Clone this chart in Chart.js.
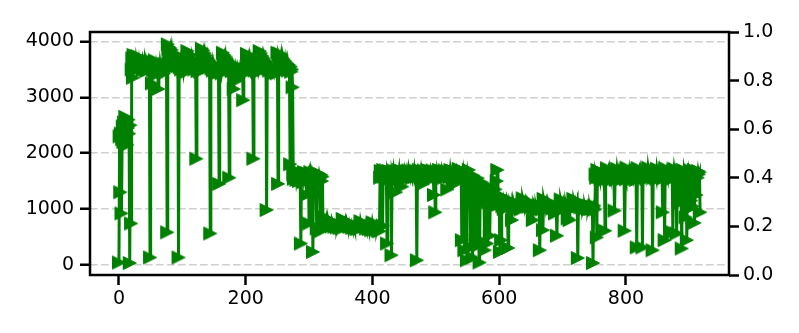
<!DOCTYPE html>
<html lang="en">
<head>
    <meta charset="UTF-8">
    <title>Series</title>
    <script src="https://cdn.jsdelivr.net/npm/chart.js"></script>
    <style>
        body { margin: 0; background: #fff; }
        #wrap { width: 799px; height: 333px; }
    </style>
</head>
<body>
<div id="wrap"><canvas id="seriesChart" width="799" height="333"></canvas></div>
<script>
// values, split by regime (index = position along x)
const segA = [40, 2300, 1300, 2350, 920, 2250, 2480, 2200, 2550, 2380,
    2650, 2300, 2560, 2150, 2450, 2600, 2350, 30, 2500, 740];
const segB = [3500, 3700, 3350, 3760, 3620, 3720, 3550, 3680, 3600, 3740,
    3580, 3650, 3520, 3700, 3620, 3560, 3690, 3480, 3640, 3580,
    3660, 3520, 3600, 3470, 3650, 3560, 3620, 3500, 3580, 130,
    3600, 3530, 3250, 3640, 3480, 3590, 3520, 3660, 3450, 3570,
    3500, 3620, 3150, 3560, 3440, 3600, 3520, 3480, 3580, 3460,
    3550, 3430, 3600, 3500, 3470, 3560, 580, 3950, 3870, 3900,
    3820, 3880, 3760, 3850, 3700, 3800, 3740, 3660, 3780, 3620,
    3720, 3580, 3690, 3560, 130, 3650, 3540, 3620, 3500, 3600,
    3520, 3580, 3470, 3560, 3500, 3540, 3450, 3520, 3830, 3740,
    3780, 3680, 3750, 3620, 3700, 3580, 3660, 3550, 3640, 3500,
    3600, 3540, 1900, 3580, 3470, 3560, 3500, 3520, 3460, 3550,
    3490, 3870, 3800, 3840, 3720, 3790, 3660, 3750, 3620, 3700,
    3580, 3680, 3540, 3650, 560, 3620, 3520, 3600, 3480, 3580,
    3500, 3560, 3450, 3540, 3480, 3520, 3440, 3500, 1450, 3530,
    3460, 3510, 3430, 3500, 3800, 3720, 3760, 3650, 3730, 3600,
    3690, 3560, 3660, 3530, 1560, 3620, 3500, 3600, 3470, 3580,
    3520, 3150, 3560, 3480, 3540, 3450, 3300, 3520, 3440, 3500,
    3460, 3530, 3420, 3490, 3440, 3510, 2950, 3470, 3500, 3430,
    3480, 3440, 3780, 3700, 3740, 3620, 3700, 3580, 3660, 3540,
    3620, 3520, 1900, 3600, 3480, 3570, 3500, 3540, 3460, 3520,
    3450, 3500, 3830, 3760, 3790, 3680, 3740, 3620, 3700, 3580,
    3660, 3560, 3640, 980, 3600, 3520, 3580, 3480, 3560, 3500,
    3540, 3460, 3520, 3480, 3500, 3440, 3510, 3450, 3490, 3430,
    3800, 1450, 3760, 3720, 3780, 3650, 3740, 3620, 3700, 3580,
    3680, 3560, 3650, 3540, 3620, 3500, 3600, 3480, 3580, 3520,
    1800, 3550, 3460, 3500];
const segC = [3180, 1620, 1540, 1680, 1580, 1650, 1520, 1600, 1560, 1660,
    1500, 1620, 1570, 380, 1640, 1530, 1610, 1480, 1660, 1550,
    1600, 1510, 1250, 1640, 1570, 1620, 740, 1590, 1660, 1540,
    1610, 1500, 230, 1630, 1570, 1650, 1520, 1600, 650, 1580,
    1640, 1530, 1620, 1560, 600, 1610, 1500, 1580, 720];
const segD = [860, 760, 830, 740, 810, 720, 800, 700, 780, 740,
    790, 710, 770, 690, 760, 720, 750, 680, 740, 700,
    730, 670, 720, 690, 710, 660, 700, 680, 690, 650,
    820, 760, 800, 720, 780, 700, 770, 710, 750, 690,
    740, 680, 730, 700, 720, 660, 710, 680, 700, 650,
    690, 670, 680, 640, 670, 660, 650, 680, 780, 720,
    760, 700, 740, 680, 730, 690, 710, 650, 700, 670,
    690, 640, 680, 660, 650, 620, 660, 760, 700, 740,
    680, 720, 650, 700, 630, 680, 610, 660, 600];
const segE = [1560, 1680, 1600, 1650, 700, 1700, 1580, 1660, 1620, 1690,
    1570, 380, 1650, 1600, 1680, 1540, 1630, 1590, 170, 1660,
    1610, 1690, 1560, 1640, 1600, 1300, 1670, 1580, 1650, 1620,
    1700, 1570, 1640, 1600, 1680, 1400, 1630, 1590, 1660, 1550,
    1620, 1680, 1600, 1650, 1570, 1690, 1610, 1640, 1580, 1670,
    1620, 1560, 1650, 1600, 1690, 1580, 1640, 1610, 80, 1660,
    1590, 1700, 1620, 1650, 1570, 1680, 1600, 1640, 1450, 1690,
    1610, 1660, 1580, 1640, 1600, 1700, 1570, 1650, 1620, 1680,
    1590, 1660, 1610, 1690, 1560, 1250, 1640, 940, 1620, 1670,
    1580, 1650, 1600, 1700, 1570, 1640, 1610, 1680, 1590, 1650,
    1620, 1560, 1690, 1600, 1640, 1580, 1350, 1670, 1610, 1650,
    1570, 1700, 1620, 1640, 1590, 1680, 1560, 1650, 1450, 1610,
    1670, 1580, 1640, 1600, 1720, 1620, 1660, 1550, 1640, 440,
    1600, 1680, 1570, 260, 1650, 1590, 1640];
const segF = [80, 1620, 1380, 1700, 1250, 1560, 310, 1450, 1180, 130,
    1600, 1320, 1500, 1150, 450, 1420, 1280, 1550, 1200, 350,
    40, 1380, 1150, 1480, 1250, 1100, 1350, 1200, 260, 1300,
    1150, 1420, 380, 1250, 1120, 1300, 520, 1180, 1250, 1100,
    1220];
const segG = [1150, 1050, 1200, 1100, 1350, 1080, 1500, 1700, 1150, 1080,
    1120, 230, 1100, 440, 1150, 1050, 1120, 1000, 1090, 1200,
    1140, 1180, 1060, 1150, 300, 1120, 1040, 1100, 1060, 1130,
    800, 1080, 1020, 1100, 1050, 1070, 1000, 1090, 1030, 1060,
    1010, 1080, 1040, 1050, 990, 1070, 1020, 1190, 1140, 1170,
    1100, 1150, 1080, 1130, 1060, 1120, 1040, 1100, 1070, 1090,
    1030, 1080, 1050, 800, 1060, 1010, 1070, 1040, 1050, 1000,
    1060, 1020, 1040, 1000, 260, 1030, 1050, 990, 1020, 620,
    1180, 1120, 1160, 1090, 1140, 1070, 1120, 1050, 1100, 1060,
    1090, 1030, 1080, 1040, 1060, 1010, 1050, 1030, 920, 1000,
    1040, 520, 1020, 1050, 990, 1030, 1010, 1170, 1120, 1150,
    1080, 1130, 1060, 1110, 1040, 1100, 1050, 1080, 830, 1020,
    1070, 800, 1050, 1030, 1060, 1000, 1040, 1180, 1130, 1160,
    1090, 1140, 1070, 1120, 120, 1100, 1050, 1110, 1030, 1080,
    1060, 1090, 1020, 1070, 1040, 1060, 1010, 1050, 1030, 1060,
    990, 1040, 1020, 1050, 1000, 1030, 1010, 1040, 30, 1020,
    1060, 990];
const segH = [1620, 1560, 490, 1700, 1600, 1680, 1570, 1650, 1540, 1630,
    1580, 1610, 1550, 1600, 1520, 610, 1590, 1540, 1730, 1650,
    1700, 1600, 1680, 1570, 1650, 1550, 1630, 1580, 1610, 1540,
    970, 1590, 1520, 1570, 1720, 1640, 1690, 1590, 1660, 1560,
    1640, 1580, 1620, 1540, 1600, 1560, 610, 1580, 1530, 1740,
    1660, 1700, 1600, 1680, 1570, 1650, 1560, 1630, 1580, 1610,
    1540, 1600, 1560, 1590, 1520, 310, 1570, 1730, 1650, 1700,
    1600, 1680, 1580, 1660, 310, 1640, 1560, 1620, 1580, 1600,
    1540, 1590, 1560, 1740, 1660, 1700, 1600, 1680, 1570, 1650,
    260, 1630, 1560, 1610, 1580, 1600, 1540, 1720, 1650, 1690,
    1590, 1670, 1560, 1640, 1580, 1620, 940, 1600, 1550, 440,
    1730, 1650, 1700, 1600, 1680, 1570, 1650, 1560, 1630, 1580,
    1610, 1540, 580, 1590, 1720, 1640, 1690, 1590, 560, 1660,
    1570, 1640, 1100, 1620, 1560, 1600, 290, 1580, 1700, 1200,
    1680, 1620, 850, 1660, 440, 1640, 1580, 1000, 1620, 1560,
    1690, 1150, 1640, 1050, 1600, 1700, 750, 1660, 1580, 1250,
    1640, 1560, 1680, 1620, 1660, 940];

const values = [].concat(segA, segB, segC, segD, segE, segF, segG, segH);
const steps = values.map((v, i) => i);

const xTicks = [0, 200, 400, 600, 800];
const yTicks = [0, 1000, 2000, 3000, 4000];
const rightTicks = [0, 0.2, 0.4, 0.6, 0.8, 1.0];

// right-pointing triangle marker like matplotlib '>'
function makeMarker() {
    const c = document.createElement('canvas');
    c.width = 16; c.height = 16;
    const g = c.getContext('2d');
    g.beginPath();
    g.moveTo(14.5, 8);
    g.lineTo(1.5, 1.5);
    g.lineTo(1.5, 14.5);
    g.closePath();
    g.fillStyle = '#008000';
    g.strokeStyle = '#008000';
    g.lineWidth = 1;
    g.fill();
    g.stroke();
    return c;
}

const tickSet = arr => scale => { scale.ticks = arr.map(v => ({ value: v })); };

const frame = {
    id: 'frame',
    afterDatasetsDraw(chart) {
        const a = chart.chartArea, ctx = chart.ctx;
        ctx.save();
        ctx.strokeStyle = '#000';
        ctx.lineWidth = 2.5;
        ctx.strokeRect(a.left, a.top, a.right - a.left, a.bottom - a.top);
        ctx.restore();
    }
};

Chart.defaults.font.family = 'DejaVu Sans';
Chart.defaults.font.size = 19;
Chart.defaults.color = '#000';

new Chart(document.getElementById('seriesChart').getContext('2d'), {
    type: 'line',
    data: {
        datasets: [{
            data: steps.map((s, i) => ({ x: s, y: values[i] })),
            borderColor: '#008000',
            borderWidth: 3,
            pointStyle: makeMarker(),
            pointRadius: 7,
            tension: 0,
            fill: false,
            yAxisID: 'y'
        }]
    },
    options: {
        responsive: false,
        animation: false,
        layout: { padding: { top: 32, left: 0, right: 0, bottom: 0 } },
        plugins: { legend: { display: false }, tooltip: { enabled: false } },
        scales: {
            x: {
                type: 'linear', position: 'bottom',
                min: -45.7, max: 962.6,
                afterBuildTicks: tickSet(xTicks),
                afterFit: s => { s.height = 58; },
                grid: { drawOnChartArea: false, tickLength: 10, tickWidth: 2.5, tickColor: '#000' },
                border: { display: false },
                ticks: { padding: 3, maxRotation: 0, callback: v => String(v) }
            },
            y: {
                type: 'linear', position: 'left',
                min: -184, max: 4171,
                afterBuildTicks: tickSet(yTicks),
                afterFit: s => { s.width = 90; },
                grid: { color: '#cfcfcf', lineWidth: 1.5, tickLength: 10, tickWidth: 2.5, tickColor: '#000', tickBorderDash: [] },
                border: { display: false, dash: [7.7, 3.3] },
                ticks: { padding: 6, callback: v => String(v) }
            },
            y2: {
                type: 'linear', position: 'right', display: true,
                min: 0, max: 1,
                afterBuildTicks: tickSet(rightTicks),
                afterFit: s => { s.width = 70; },
                grid: { drawOnChartArea: false, tickLength: 10, tickWidth: 2.5, tickColor: '#000' },
                border: { display: false },
                ticks: { padding: 4, callback: v => v.toFixed(1) }
            }
        }
    },
    plugins: [frame]
});
</script>
</body>
</html>
